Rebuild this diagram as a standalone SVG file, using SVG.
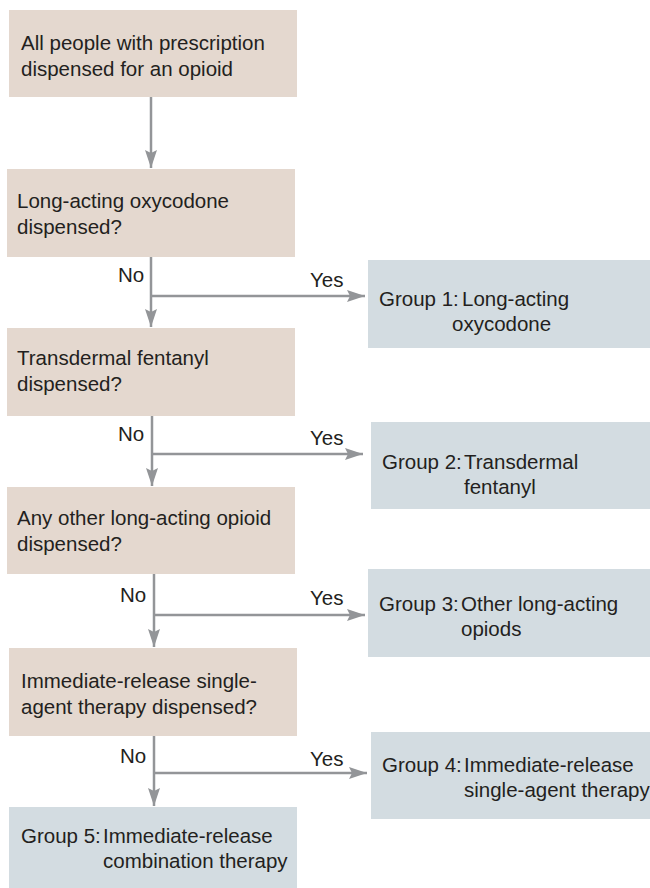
<svg xmlns="http://www.w3.org/2000/svg" width="650" height="888" viewBox="0 0 650 888">
<style>
.q{fill:#e4d8cf}
.g{fill:#d3dce1}
text{font-family:"Liberation Sans",Arial,sans-serif;font-size:20.5px;fill:#231f20}
.c{stroke:#939598;stroke-width:2.5;fill:none}
</style>
<defs>
<marker id="ah" markerUnits="userSpaceOnUse" markerWidth="18" markerHeight="12" refX="18" refY="6" orient="auto" viewBox="0 0 18 12">
<path d="M0,0 L18,6 L0,12 L3,6 z" fill="#939598"/>
</marker>
</defs>
<rect width="650" height="888" fill="#ffffff"/>
<g id="n-start"><rect class="q" x="9" y="10" width="288" height="87"/><text x="21" y="50">All people with prescription</text><text x="21" y="76">dispensed for an opioid</text></g>
<g id="n-q1"><rect class="q" x="7" y="169" width="288" height="88"/><text x="17" y="208">Long-acting oxycodone</text><text x="17" y="234">dispensed?</text></g>
<g id="n-q2"><rect class="q" x="7" y="328" width="288" height="88"/><text x="17" y="365">Transdermal fentanyl</text><text x="17" y="391">dispensed?</text></g>
<g id="n-q3"><rect class="q" x="7" y="487" width="288" height="87"/><text x="17" y="525">Any other long-acting opioid</text><text x="17" y="551">dispensed?</text></g>
<g id="n-q4"><rect class="q" x="9" y="648" width="288" height="88"/><text x="21" y="688">Immediate-release single-</text><text x="21" y="714">agent therapy dispensed?</text></g>
<g id="n-g1"><rect class="g" x="368" y="260" width="282" height="88"/><text y="306"><tspan x="379">Group 1:</tspan><tspan x="462">Long-acting</tspan></text><text x="452" y="331">oxycodone</text></g>
<g id="n-g2"><rect class="g" x="371" y="422" width="279" height="87"/><text y="469"><tspan x="382">Group 2:</tspan><tspan x="464">Transdermal</tspan></text><text x="464" y="494">fentanyl</text></g>
<g id="n-g3"><rect class="g" x="368" y="569" width="282" height="88"/><text y="611"><tspan x="379">Group 3:</tspan><tspan x="461">Other long-acting</tspan></text><text x="461" y="636">opiods</text></g>
<g id="n-g4"><rect class="g" x="371" y="732" width="279" height="87"/><text y="772"><tspan x="382">Group 4:</tspan><tspan x="464">Immediate-release</tspan></text><text x="464" y="797">single-agent therapy</text></g>
<g id="n-g5"><rect class="g" x="9" y="807" width="288" height="81"/><text y="843"><tspan x="21">Group 5:</tspan><tspan x="103">Immediate-release</tspan></text><text x="103" y="868">combination therapy</text></g>
<g id="connectors">
<path class="c" d="M151,97 V168" marker-end="url(#ah)"/>
<path class="c" d="M151,257 V327" marker-end="url(#ah)"/>
<path class="c" d="M151,296 H365" marker-end="url(#ah)"/>
<path class="c" d="M152,416 V486" marker-end="url(#ah)"/>
<path class="c" d="M152,454 H363" marker-end="url(#ah)"/>
<path class="c" d="M154,574 V647" marker-end="url(#ah)"/>
<path class="c" d="M154,615 H365" marker-end="url(#ah)"/>
<path class="c" d="M154,736 V806" marker-end="url(#ah)"/>
<path class="c" d="M154,773 H367" marker-end="url(#ah)"/>
<text x="118" y="282">No</text><text x="310" y="287">Yes</text>
<text x="118" y="441">No</text><text x="310" y="445">Yes</text>
<text x="120" y="602">No</text><text x="310" y="605">Yes</text>
<text x="120" y="763">No</text><text x="310" y="766">Yes</text>
</g>
</svg>
